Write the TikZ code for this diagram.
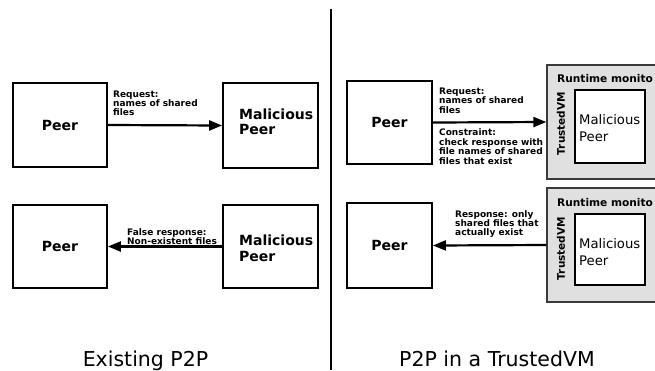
\documentclass[tikz,border=0pt]{standalone}
\usepackage{fontspec}
\setmainfont{DejaVu Sans}
\usetikzlibrary{arrows.meta}
\definecolor{vmfill}{HTML}{E0E0E0}
\definecolor{vmline}{HTML}{3A3A3A}
\begin{document}
\begin{tikzpicture}[x=1pt,y=-1pt,
  peerbox/.style={draw=black,line width=1.8pt,fill=white,inner sep=0pt},
  vmbox/.style={draw=vmline,line width=1.3pt,fill=vmfill,inner sep=0pt},
  msg/.style={line width=2.2pt,-{Triangle[length=13pt,width=10pt]}},
  lbl/.style={anchor=north west,inner sep=0pt,align=left,font=\bfseries\fontsize{9}{9.4}\selectfont},
  peertxt/.style={inner sep=0pt,font=\bfseries\fontsize{14}{15}\selectfont},
  maltxt/.style={anchor=north west,inner sep=0pt,align=left,font=\bfseries\fontsize{14}{15.5}\selectfont},
  inmaltxt/.style={anchor=north west,inner sep=0pt,align=left,font=\fontsize{13.2}{17}\selectfont},
  monlbl/.style={anchor=base west,inner sep=0pt,font=\bfseries\fontsize{10.6}{11}\selectfont},
  vmlbl/.style={inner sep=0pt,rotate=90,font=\bfseries\fontsize{10.5}{11}\selectfont},
  title/.style={anchor=base,inner sep=0pt,font=\fontsize{20.5}{22}\selectfont}]
\useasboundingbox (0,0) rectangle (655,370);
\clip (0,0) rectangle (655,370);

% divider between the two scenarios
\coordinate (divtop) at (331,9);
\coordinate (divbot) at (331,370);
\draw[line width=2pt] (divtop) -- (divbot);

% ---------- existing P2P: request ----------
\node[peerbox,minimum width=94pt,minimum height=84pt] (peerA) at (60,125) {};
\node[peertxt] (peerAt) at (peerA.center) {Peer};
\node[peerbox,minimum width=95pt,minimum height=85pt] (malA) at (270.5,125.5) {};
\node[maltxt] (malAt) at (239,108.3) {Malicious\\Peer};
\draw[msg] (peerA.east) -- (malA.west);
\node[lbl] (reqA) at (113,90.4) {Request:\\names of shared\\files};

% ---------- existing P2P: response ----------
\node[peerbox,minimum width=94pt,minimum height=83pt] (peerB) at (60,246.5) {};
\node[peertxt] (peerBt) at (peerB.center) {Peer};
\node[peerbox,minimum width=95pt,minimum height=83pt] (malB) at (270.5,246.5) {};
\node[maltxt] (malBt) at (239,235) {Malicious\\Peer};
\draw[msg] (malB.west) -- (peerB.east);
\node[lbl] (resB) at (127,228.4) {False response:\\Non-existent files};

% ---------- TrustedVM: request ----------
\node[peerbox,minimum width=85pt,minimum height=83pt] (peerC) at (389.5,122.5) {};
\node[peertxt] (peerCt) at (peerC.center) {Peer};
\node[vmbox,minimum width=153pt,minimum height=114pt] (vmC) at (623.5,122) {};
\node[monlbl] (monC) at (557,82) {Runtime monito};
\node[vmlbl] (tvmC) at (561,123.5) {TrustedVM};
\node[peerbox,line width=1.6pt,minimum width=70pt,minimum height=73pt] (malC) at (610,126.5) {};
\node[inmaltxt] (malCt) at (579,114.5) {Malicious\\Peer};
\draw[msg] (peerC.east) -- (vmC.west);
\node[lbl,font=\bfseries\fontsize{9}{9.7}\selectfont] (reqC) at (439,87.4) {Request:\\names of shared\\files};
\node[lbl,font=\bfseries\fontsize{9}{9.7}\selectfont] (conC) at (439,128.4) {Constraint:\\check response with\\file names of shared\\files that exist};

% ---------- TrustedVM: response ----------
\node[peerbox,minimum width=85pt,minimum height=85pt] (peerD) at (389.5,245.5) {};
\node[peertxt] (peerDt) at (peerD.center) {Peer};
\node[vmbox,minimum width=153pt,minimum height=114pt] (vmD) at (623.5,245) {};
\node[monlbl] (monD) at (557,206) {Runtime monito};
\node[vmlbl] (tvmD) at (561,248.5) {TrustedVM};
\node[peerbox,line width=1.6pt,minimum width=70pt,minimum height=71pt] (malD) at (610,249.5) {};
\node[inmaltxt] (malDt) at (579,238.5) {Malicious\\Peer};
\draw[msg] (vmD.west) -- (peerD.east);
\node[lbl,font=\bfseries\fontsize{9}{8.8}\selectfont] (resD) at (455,210.4) {Response: only\\shared files that\\actually exist};

% ---------- captions ----------
\node[title] (capL) at (145.5,366) {Existing P2P};
\node[title] (capR) at (497,366) {P2P in a TrustedVM};
\end{tikzpicture}
\end{document}
